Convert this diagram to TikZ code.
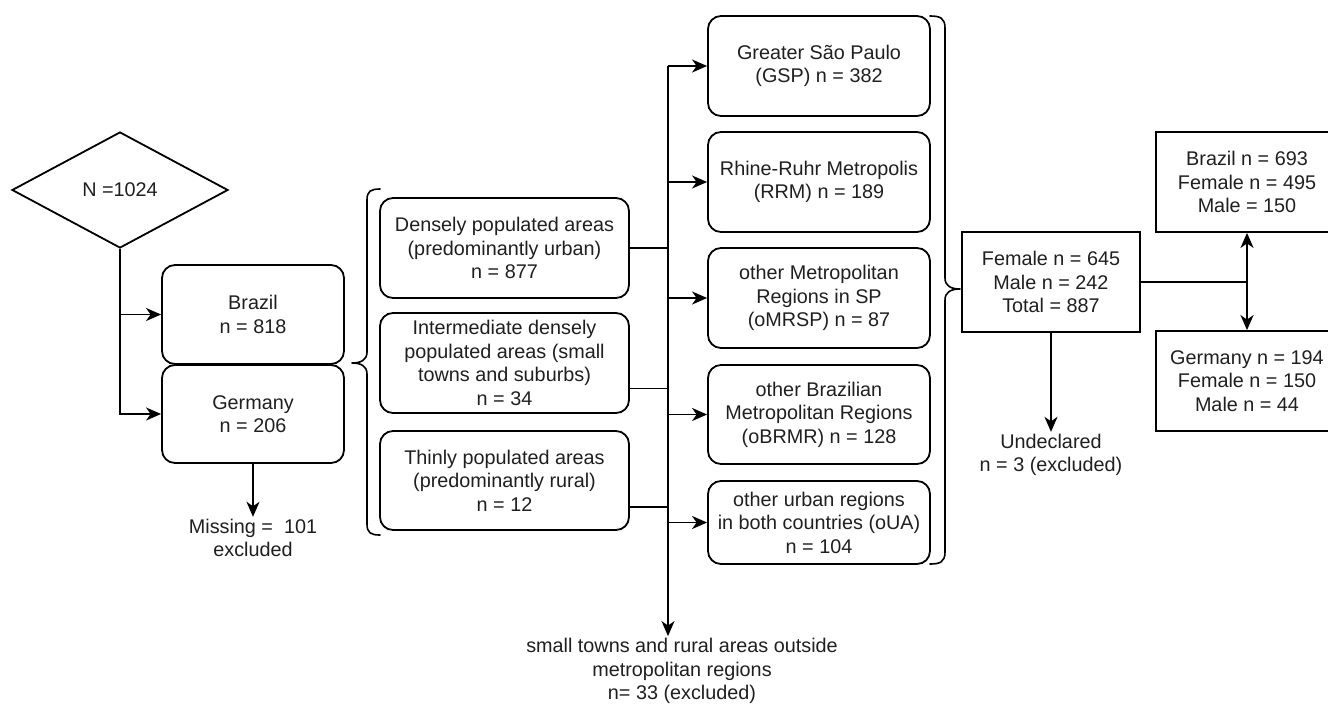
\documentclass[tikz,border=0pt]{standalone}
\usepackage{fontspec}
\setmainfont{Liberation Sans}
\usetikzlibrary{shapes.geometric,arrows.meta,calc}
\tikzset{
  every node/.style={font=\fontsize{19.8}{23.5}\selectfont, text=black!88, align=center},
  rbox/.style={draw, line width=1.8pt, rounded corners=13pt, minimum width=#1, inner sep=0pt},
  sbox/.style={draw, line width=1.8pt, minimum width=#1, minimum height=100pt, inner sep=0pt},
  plain/.style={inner sep=2pt},
  conn/.style={line width=1.8pt},
  arr/.style={conn, -{Stealth[length=15pt,width=13pt,inset=4.5pt]}},
  brc/.style={line width=1.6pt, line cap=round, line join=round}
}
\begin{document}
\begin{tikzpicture}[x=1pt,y=-1pt]
\useasboundingbox (0,0) rectangle (1328,705);
\clip (0,0) rectangle (1328,705);

% left column
\node[diamond, draw, line width=1.8pt, minimum width=216pt, minimum height=116pt, inner sep=0pt, aspect=1.86] (dia) at (120,190) {N =1024};
\node[rbox=182pt, minimum height=99pt] (brazil) at (253,314.5) {Brazil\\n = 818};
\node[rbox=182pt, minimum height=98pt] (germany) at (253,414) {Germany\\n = 206};
\node[plain] (missing) at (253,538) {Missing = \ 101\\excluded};

\draw[arr] (dia.south) |- (brazil.west);
\draw[arr] (dia.south) |- (germany.west);
\draw[arr] (germany.south) -- (missing.north);

% brace 1
\draw[brc] (380,189) .. controls (371,189) and (367,191) .. (367,200) -- (367,352)
  .. controls (367,360) and (361,363) .. (352,363)
  .. controls (361,363) and (367,366) .. (367,374) -- (367,524)
  .. controls (367,533) and (371,535) .. (380,535);

% urbanisation column
\node[rbox=249pt, minimum height=100pt] (dense) at (504.5,248) {Densely populated areas\\(predominantly urban)\\n = 877};
\node[rbox=249pt, minimum height=100pt] (inter) at (504.5,363) {Intermediate densely\\populated areas (small\\towns and suburbs)\\n = 34};
\node[rbox=249pt, minimum height=99pt] (thin) at (504.5,480.5) {Thinly populated areas\\(predominantly rural)\\n = 12};

% metropolitan column
\node[rbox=222pt, minimum height=100pt] (gsp) at (819,66) {Greater São Paulo\\(GSP) n = 382};
\node[rbox=222pt, minimum height=100pt] (rrm) at (819,182) {Rhine-Ruhr Metropolis\\(RRM) n = 189};
\node[rbox=222pt, minimum height=100pt] (omrsp) at (819,298) {other Metropolitan\\Regions in SP\\(oMRSP) n = 87};
\node[rbox=222pt, minimum height=99pt] (obrmr) at (819,414.5) {other Brazilian\\Metropolitan Regions\\(oBRMR) n = 128};
\node[rbox=222pt, minimum height=83pt] (oua) at (819,522.5) {other urban regions\\in both countries (oUA)\\n = 104};

\node[plain] (small) at (682,671) {small towns and rural areas outside\\metropolitan regions\\n= 33 (excluded)};

\coordinate (tt) at (668,66);
\coordinate (ia) at ($(inter.south east)!0.25!(inter.north east)$);
\coordinate (ta) at ($(thin.south east)!0.24!(thin.north east)$);
\draw[conn] (dense.east) -- (dense.east -| tt);
\draw[conn] (ia) -- (ia -| tt);
\draw[conn] (ta) -- (ta -| tt);
\draw[arr] (tt) -- (tt |- small.north);
\draw[arr] (tt) -- (gsp.west);
\draw[arr] (tt |- rrm.west) -- (rrm.west);
\draw[arr] (tt |- omrsp.west) -- (omrsp.west);
\draw[arr] (tt |- obrmr.west) -- (obrmr.west);
\draw[arr] (tt |- oua.west) -- (oua.west);

% brace 2
\draw[brc] (930,16) .. controls (940,16) and (945,18) .. (945,28) -- (945,278)
  .. controls (945,286) and (951,289) .. (960,289)
  .. controls (951,289) and (945,292) .. (945,300) -- (945,552)
  .. controls (945,562) and (940,564) .. (930,564);

% gender column
\node[sbox=178pt] (fem) at (1051,282) {Female n = 645\\Male n = 242\\Total = 887};
\node[sbox=182pt] (bra2) at (1247,182) {Brazil n = 693\\Female n = 495\\Male = 150};
\node[sbox=182pt] (ger2) at (1247,381) {Germany n = 194\\Female n = 150\\Male n = 44};
\node[plain] (undecl) at (1051,455) {Undeclared\\n = 3 (excluded)};

\coordinate (sp) at (fem.east -| bra2.south);
\draw[conn] (fem.east) -- (sp);
\draw[arr] (sp) -- (bra2.south);
\draw[arr] (sp) -- (ger2.north);
\draw[arr] (fem.south) -- (undecl.north);
\end{tikzpicture}
\end{document}
